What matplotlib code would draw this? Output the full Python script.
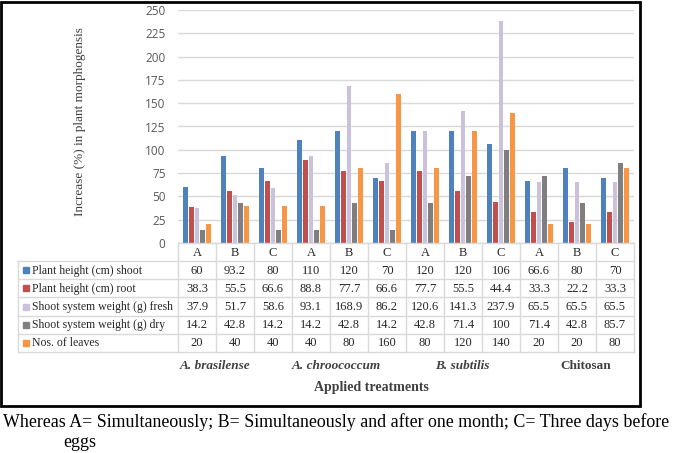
import matplotlib.pyplot as plt
import matplotlib.patches as mpatches
import numpy as np

categories = ["A", "B", "C"] * 4
groups = ["A. brasilense", "A. chroococcum", "B. subtilis", "Chitosan"]
series = ["Plant height (cm) shoot", "Plant height (cm) root",
          "Shoot system weight (g) fresh", "Shoot system weight (g) dry",
          "Nos. of leaves"]
shoot = [60, 93.2, 80, 110, 120, 70, 120, 120, 106, 66.6, 80, 70]
root = [38.3, 55.5, 66.6, 88.8, 77.7, 66.6, 77.7, 55.5, 44.4, 33.3, 22.2, 33.3]
fresh = [37.9, 51.7, 58.6, 93.1, 168.9, 86.2, 120.6, 141.3, 237.9, 65.5, 65.5, 65.5]
dry = [14.2, 42.8, 14.2, 14.2, 42.8, 14.2, 42.8, 71.4, 100, 71.4, 42.8, 85.7]
leaves = [20, 40, 40, 40, 80, 160, 80, 120, 140, 20, 20, 80]
colors = ["#4f81bd", "#c0504d", "#ccc1da", "#7f7f7f", "#f79646"]
yticks = [0, 25, 50, 75, 100, 125, 150, 175, 200, 225, 250]

W, H = 685, 453
fig = plt.figure(figsize=(W / 100, H / 100), dpi=100)

# plot area in pixels
x0, x1, ytop, ybot = 178, 634, 10, 243
ax = fig.add_axes([x0 / W, 1 - ybot / H, (x1 - x0) / W, (ybot - ytop) / H])
vals = [shoot, root, fresh, dry, leaves]
x = np.arange(len(categories))
pitch, bw = 0.148, 0.13
for i, (v, c) in enumerate(zip(vals, colors)):
    ax.bar(x + (i - 2) * pitch, v, width=bw, color=c, zorder=3)
ax.set_xlim(-0.5, len(categories) - 0.5)
ax.set_ylim(0, 250)
ax.set_yticks(yticks)
ax.set_yticklabels([str(t) for t in yticks], fontsize=8.5, color="#595959",
                   family="Open Sans")
ax.tick_params(axis="y", length=0, pad=9)
ax.set_xticks([])
ax.grid(axis="y", color="#d9d9d9", lw=1, zorder=0)
for s in ax.spines.values():
    s.set_visible(False)

# overlay in pixel coordinates for table, labels and frame
ov = fig.add_axes([0, 0, 1, 1], zorder=5)
ov.set_xlim(0, W)
ov.set_ylim(H, 0)
ov.axis("off")
ov.patch.set_alpha(0)

lc = "#d9d9d9"
cw = (x1 - x0) / len(categories)
hdr_bot = 261
rh = 18.2
tx0 = 18
tab_bot = hdr_bot + rh * len(series)
serif = "Liberation Serif"
tcol = "#262626"

# header row
ov.plot([x0, x1], [ybot, ybot], color=lc, lw=1)
for k in range(len(categories) + 1):
    xx = x0 + k * cw
    ov.plot([xx, xx], [ybot, tab_bot], color=lc, lw=1)
for k, c in enumerate(categories):
    ov.text(x0 + (k + 0.5) * cw, (ybot + hdr_bot) / 2 + 0.5, c, ha="center",
            va="center", family=serif, fontsize=9, color=tcol)
# body rows
for r in range(len(series) + 1):
    yy = hdr_bot + r * rh
    ov.plot([tx0, x1], [yy, yy], color=lc, lw=1)
ov.plot([tx0, tx0], [hdr_bot, tab_bot], color=lc, lw=1)
for r, (name, v, c) in enumerate(zip(series, vals, colors)):
    yc = hdr_bot + (r + 0.5) * rh + 0.5
    ov.add_patch(mpatches.Rectangle((23, yc - 3.5), 6, 6, color=c))
    ov.text(32, yc, name, ha="left", va="center", family=serif, fontsize=8.5,
            color=tcol)
    for k, val in enumerate(v):
        ov.text(x0 + (k + 0.5) * cw, yc, f"{val:g}", ha="center", va="center",
                family=serif, fontsize=9, color=tcol)

# group labels
gx = [215, 336, 462, 586]
for g, xx in zip(groups, gx):
    ov.text(xx, 366, g, ha="center", va="center", family=serif, fontsize=9.5,
            fontweight="bold", style="normal" if g == "Chitosan" else "italic",
            color="#404040")
ov.text(371, 388, "Applied treatments", ha="center", va="center", family=serif,
        fontsize=10, fontweight="bold", color="#404040")
ov.text(80, 122, "Increase (%) in plant morphogensis", ha="center",
        va="center", rotation=90, family=serif, fontsize=9.5, color="#404040")

# outer frame
ov.add_patch(mpatches.Rectangle((1.5, 1.5), 638.5, 404.5, fill=False,
                                edgecolor="black", lw=2))

# caption
ov.text(3, 427, "Whereas A= Simultaneously; B= Simultaneously and after one "
        "month; C= Three days before", ha="left", va="baseline", family=serif,
        fontsize=12.9, color="black")
ov.text(63, 447, "eggs", ha="left", va="baseline", family=serif, fontsize=12.9,
        color="black")

fig.savefig("out.png", dpi=100)
